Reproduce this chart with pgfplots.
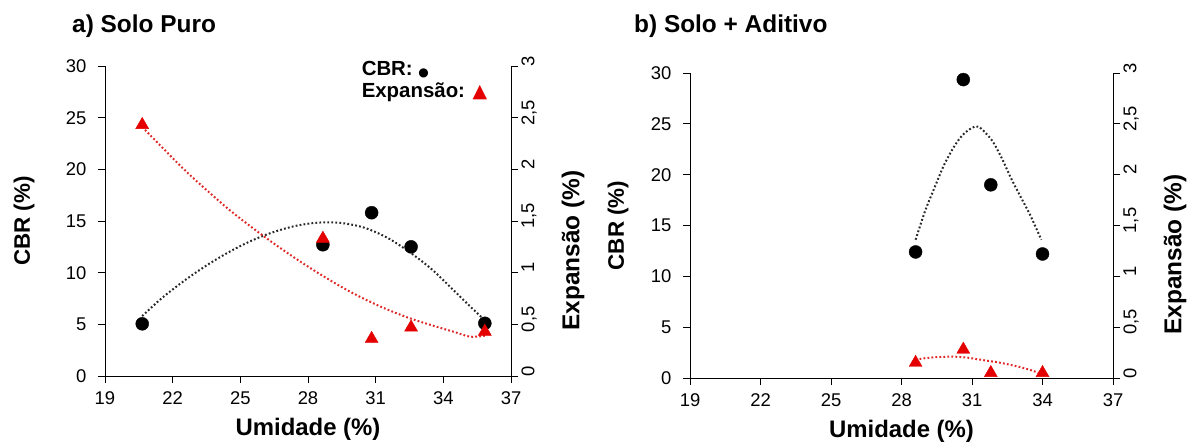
\documentclass[border=0pt]{standalone}
\usepackage{pgfplots}
\pgfplotsset{compat=1.18}
\usepackage{fontspec}
\setmainfont{Liberation Sans}
\newfontfamily\dejavu{DejaVu Sans}
\definecolor{myred}{RGB}{228,0,0}
\definecolor{trendblack}{RGB}{40,40,40}
\definecolor{trendred}{RGB}{225,40,40}

\pgfplotsset{
  base/.style={
    scale only axis, xmin=19, xmax=37, clip=false,
    tick align=outside, major tick length=7bp,
    tick style={black, line width=0.9bp},
    axis line style={black, line width=0.9bp},
    tick label style={font=\fontsize{18.5}{18.5}\selectfont},
    /pgf/number format/assume math mode=true,
    /pgf/number format/use comma,
  },
  lefty/.style={
    ymin=0, ymax=30, axis x line*=bottom, axis y line*=left,
    xtick={19,22,25,28,31,34,37}, ytick={0,5,10,15,20,25,30},
    xticklabel style={yshift=-5bp},
    yticklabel style={xshift=-8bp},
    every axis x label/.style={at={(rel axis cs:0.5,0)}, anchor=base, yshift=-59bp,
      font=\bfseries\fontsize{24}{24}\selectfont},
  },
  righty/.style={
    ymin=0, ymax=3, axis x line=none, axis y line*=right,
    ytick={0,0.5,1,1.5,2,2.5,3},
    yticklabel style={rotate=90, anchor=north, xshift=5bp},
    every axis y label/.style={at={(rel axis cs:1,0.405)}, anchor=center, xshift=62bp, rotate=90,
      font=\bfseries\fontsize{24.5}{24.5}\selectfont},
  },
  cbr/.style={only marks, mark=*, mark size=6.5bp, color=black},
  exp/.style={only marks, mark=triangle*, mark size=7.5bp, color=myred},
  tb/.style={no marks, smooth, trendblack, line width=2bp, dash pattern=on 1.8bp off 2.2bp},
  tr/.style={no marks, smooth, trendred, line width=2bp, dash pattern=on 1.8bp off 2.2bp},
}

\begin{document}
\begin{tikzpicture}
\useasboundingbox (0,0) rectangle (1190bp,444bp);

% ---------- Panel a ----------
\node[anchor=base west, inner sep=0pt, font=\bfseries\fontsize{24.5}{24.5}\selectfont] at (72bp,411bp) {a) Solo Puro};

\begin{axis}[base, lefty, at={(105bp,68bp)}, anchor=south west, width=406bp, height=310bp,
  xlabel={Umidade (\%)}, ylabel={CBR (\%)},
  every axis y label/.style={at={(rel axis cs:0,0.5)}, anchor=center, xshift=-81bp, rotate=90,
      font=\bfseries\fontsize{22.5}{22.5}\selectfont},
  legend style={at={(rel axis cs:0.627,1.022)}, anchor=north west, draw=none, fill=none,
      font=\bfseries\fontsize{20.5}{20.5}\selectfont, row sep=2bp, inner sep=0pt},
  legend cell align=left]
\addplot[tb, forget plot] coordinates {(20.65,5.8) (21.5,7.5) (22.5,9.2) (23.5,10.7) (24.5,12.0) (25.5,13.1) (26.5,13.95) (27.5,14.55) (28.5,14.85) (29.5,14.8) (30.5,14.35) (31.5,13.4) (32.5,12.0) (33.5,10.3) (34.5,8.2) (35.3,6.5) (35.84,5.4)};
\addplot[cbr, forget plot] coordinates {(20.65,5.05) (28.66,12.7) (30.82,15.8) (32.57,12.5) (35.84,5.1)};
\addlegendimage{empty legend}\addlegendentry{CBR: {\dejavu\fontsize{12}{12}\selectfont\raisebox{-1bp}{●}}}
\addlegendimage{empty legend}\addlegendentry{Expansão: {\dejavu\fontsize{19}{19}\selectfont\color{myred}▲}}
\end{axis}

\begin{axis}[base, righty, at={(105bp,68bp)}, anchor=south west, width=406bp, height=310bp,
  ylabel={Expansão (\%)}]
\addplot[tr] coordinates {(20.65,2.41) (21.5,2.22) (22.5,2.00) (23.5,1.80) (24.5,1.61) (25.5,1.44) (26.5,1.28) (27.5,1.13) (28.5,0.99) (29.5,0.86) (30.5,0.745) (31.5,0.645) (32.5,0.56) (33.5,0.49) (34.5,0.425) (35.2,0.38) (35.84,0.39)};
\addplot[exp] coordinates {(20.65,2.43) (28.66,1.33) (30.82,0.36) (32.57,0.47) (35.84,0.43)};
\end{axis}

% ---------- Panel b ----------
\node[anchor=base west, inner sep=0pt, font=\bfseries\fontsize{24.5}{24.5}\selectfont] at (634bp,411bp) {b) Solo + Aditivo};

\begin{axis}[base, lefty, at={(690bp,66bp)}, anchor=south west, width=423bp, height=305bp,
  xlabel={Umidade (\%)}, ylabel={CBR (\%)},
  every axis y label/.style={at={(rel axis cs:0,0.5)}, anchor=center, xshift=-72bp, rotate=90,
      font=\bfseries\fontsize{22.5}{22.5}\selectfont}]
\addplot[tb] coordinates {(28.6,13.6) (29.0,16.4) (29.41,18.75) (29.8,20.9) (30.22,22.7) (30.6,23.9) (31.0,24.6) (31.3,24.7) (31.84,23.4) (32.25,21.7) (32.65,19.7) (33.05,17.9) (33.46,16.1) (33.95,13.6)};
\addplot[cbr] coordinates {(28.6,12.4) (30.63,29.35) (31.8,19.0) (34.0,12.2)};
\end{axis}

\begin{axis}[base, righty, at={(690bp,66bp)}, anchor=south west, width=423bp, height=305bp,
  ylabel={Expansão (\%)}]
\addplot[tr] coordinates {(28.6,0.18) (29.0,0.195) (29.5,0.205) (30.2,0.21) (30.8,0.2) (31.5,0.175) (32.2,0.15) (33.0,0.11) (33.6,0.07) (34.0,0.035)};
\addplot[exp] coordinates {(28.6,0.15) (30.63,0.28) (31.8,0.05) (34.0,0.05)};
\end{axis}
\end{tikzpicture}
\end{document}
